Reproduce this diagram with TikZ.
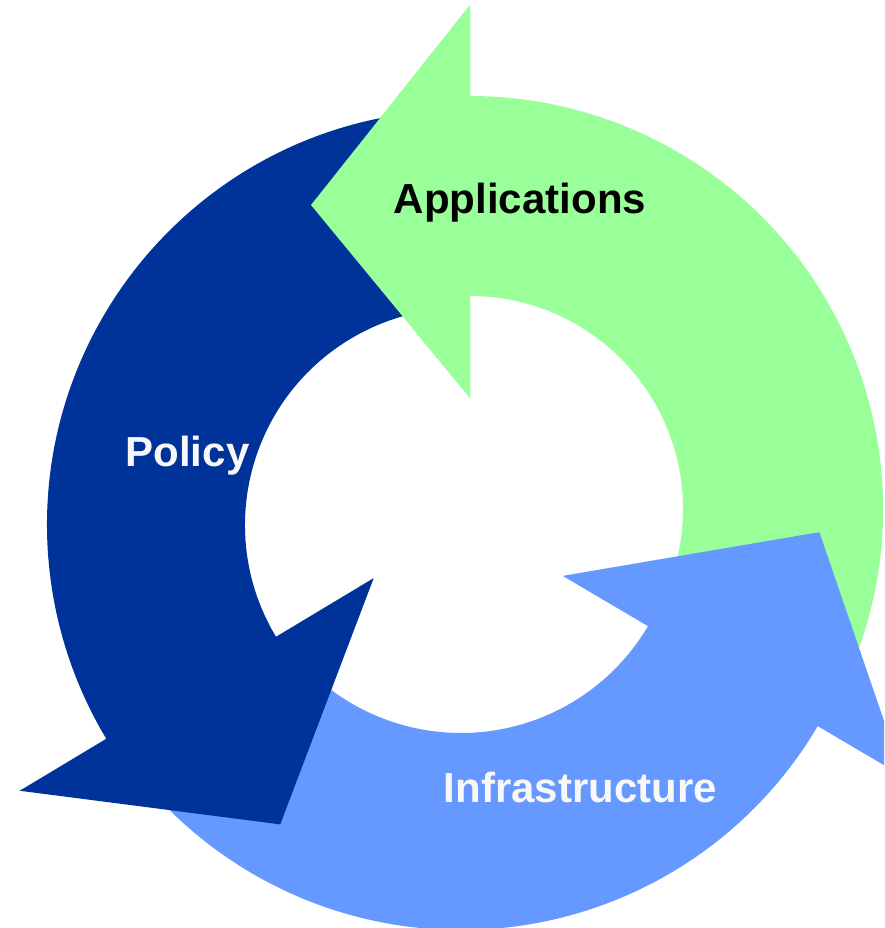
\documentclass[tikz,border=0pt]{standalone}
\usepackage{fontspec}
\setsansfont{Liberation Sans}
\usepackage{tikz}
\usetikzlibrary{calc}
\definecolor{appgreen}{HTML}{99FF99}
\definecolor{polblue}{HTML}{003399}
\definecolor{infblue}{HTML}{6699FF}
\definecolor{offwhite}{HTML}{F8F8F8}
\tikzset{
	ringlbl/.style = {inner sep=0pt, anchor=base,
		font=\sffamily\bfseries\fontsize{42}{50}\selectfont},
	app_l/.style = {ringlbl, black},
	pol_l/.style = {ringlbl, offwhite},
	inf_l/.style = {ringlbl, offwhite},
	app_f/.style = {fill=appgreen},
	pol_f/.style = {fill=polblue},
	inf_f/.style = {fill=infblue}
}
\begin{document}
\begin{tikzpicture}[x=1pt,y=1pt]
\useasboundingbox (0,0) rectangle (884,-928);
\clip (0,0) rectangle (884,-928);
\coordinate (cg) at (470,-509);
\coordinate (cd) at (462,-525);
\coordinate (cl) at (461,-516);
% applications
\fill[app_f] ($(cg)+(-28:413pt)$) arc[start angle=-28, end angle=90, radius=413pt]
	-- ($(cg)+(90:504pt)$) -- ($(cg)+(90:304pt)+(180:159pt)$) -- ($(cg)+(90:111pt)$)
	-- ($(cg)+(90:213pt)$) arc[start angle=90, end angle=-28, radius=213pt] -- cycle;
% infrastructure
\fill[inf_f] ($(cl)+(220:414pt)$) arc[start angle=220, end angle=329.5, radius=414pt]
	-- ($(cl)+(329.5:513pt)$) -- ($(cl)+(329.5:317pt)+(59.5:168pt)$) -- ($(cl)+(329.5:118pt)$)
	-- ($(cl)+(329.5:217pt)$) arc[start angle=329.5, end angle=220, radius=217pt] -- cycle;
% policy
\fill[pol_f] ($(cd)+(95:415pt)$) arc[start angle=95, end angle=211, radius=415pt]
	-- ($(cd)+(211:516pt)$) -- ($(cd)+(211:310pt)+(301:163pt)$) -- ($(cd)+(211:103pt)$)
	-- ($(cd)+(211:217pt)$) arc[start angle=211, end angle=95, radius=217pt] -- cycle;
% green head again, over the policy tail
\fill[app_f] ($(cg)+(90:504pt)$) -- ($(cg)+(90:304pt)+(180:159pt)$) -- ($(cg)+(90:111pt)$) -- cycle;
\node[app_l] (apps) at (520,-213) {Applications};
\node[pol_l] (policy) at (187.5,-466) {Policy};
\node[inf_l] (infra) at (580.5,-802) {Infrastructure};
\end{tikzpicture}
\end{document}
